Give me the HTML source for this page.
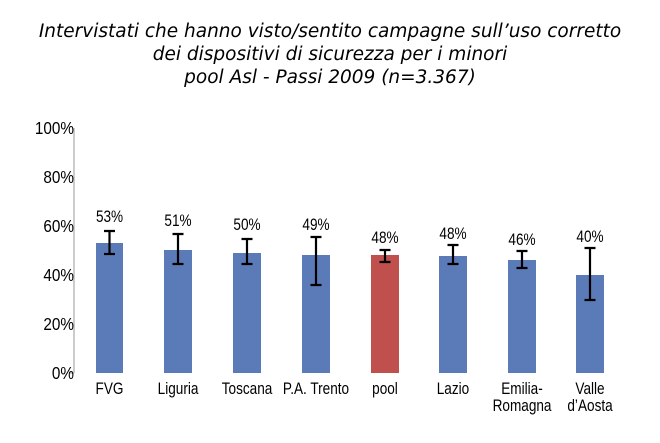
<!DOCTYPE html>
<html><head><meta charset="utf-8"><style>
body{margin:0;background:#fff;width:660px;height:438px;overflow:hidden}
svg text{font-family:"Liberation Sans",sans-serif}
.n text{transform-box:fill-box;transform-origin:center;transform:scaleX(.8)}
.ny text{transform-box:fill-box;transform-origin:right;transform:scaleX(.85)}
</style></head><body>
<svg width="660" height="438" viewBox="0 0 660 438" xmlns="http://www.w3.org/2000/svg">
<g font-style="italic" font-size="18.5" text-anchor="middle" fill="#000">
<text x="330" y="37" style="font-family:'DejaVu Sans',sans-serif">Intervistati che hanno visto/sentito campagne sull’uso corretto</text>
<text x="330" y="60" style="font-family:'DejaVu Sans',sans-serif">dei dispositivi di sicurezza per i minori</text>
<text x="330" y="83" style="font-family:'DejaVu Sans',sans-serif">pool Asl - Passi 2009 (n=3.367)</text>
</g>
<line x1="74" y1="128" x2="74" y2="373" stroke="#bbb" stroke-width="1.5"/>
<line x1="70" y1="373" x2="74" y2="373" stroke="#bbb" stroke-width="1.5"/>
<g class="ny" font-size="18" text-anchor="end" fill="#000">
<text x="74" y="134">100%</text><text x="74" y="183">80%</text><text x="74" y="232">60%</text>
<text x="74" y="281">40%</text><text x="74" y="330">20%</text><text x="74" y="379">0%</text>
</g>
<g fill="#5b7bb8">
<rect x="96" y="243" width="27" height="130"/>
<rect x="164" y="250" width="28" height="123"/>
<rect x="233" y="253" width="28" height="120"/>
<rect x="302" y="255" width="28" height="118"/>
<rect x="371" y="255" width="28" height="118" fill="#c0504d"/>
<rect x="439" y="256" width="28" height="117"/>
<rect x="508" y="260" width="28" height="113"/>
<rect x="576" y="275" width="28" height="98"/>
</g>
<g stroke="#000" stroke-width="2.2" fill="none">
<path d="M109.5 231V254M104 231h11M104 254h11"/>
<path d="M178 234V264M172.5 234h11M172.5 264h11"/>
<path d="M247 239V264M241.5 239h11M241.5 264h11"/>
<path d="M316 237V285M310.5 237h11M310.5 285h11"/>
<path d="M385 250V262M379.5 250h11M379.5 262h11"/>
<path d="M453 245V264M447.5 245h11M447.5 264h11"/>
<path d="M522 251V268M516.5 251h11M516.5 268h11"/>
<path d="M590 248V300M584.5 248h11M584.5 300h11"/>
</g>
<g class="n" font-size="17" text-anchor="middle" fill="#000">
<text x="109.5" y="222">53%</text><text x="178" y="226">51%</text><text x="247" y="230">50%</text>
<text x="316" y="230">49%</text><text x="385" y="243">48%</text><text x="453" y="239">48%</text>
<text x="522" y="245">46%</text><text x="590" y="242">40%</text>
</g>
<g class="n" font-size="17" text-anchor="middle" fill="#000">
<text x="109.5" y="394">FVG</text><text x="178" y="394">Liguria</text><text x="247" y="394">Toscana</text>
<text x="316" y="394">P.A. Trento</text><text x="385" y="394">pool</text><text x="453" y="394">Lazio</text>
<text x="522" y="394">Emilia-</text><text x="522" y="411">Romagna</text>
<text x="590" y="394">Valle</text><text x="590" y="411">d’Aosta</text>
</g>
</svg>
</body></html>
